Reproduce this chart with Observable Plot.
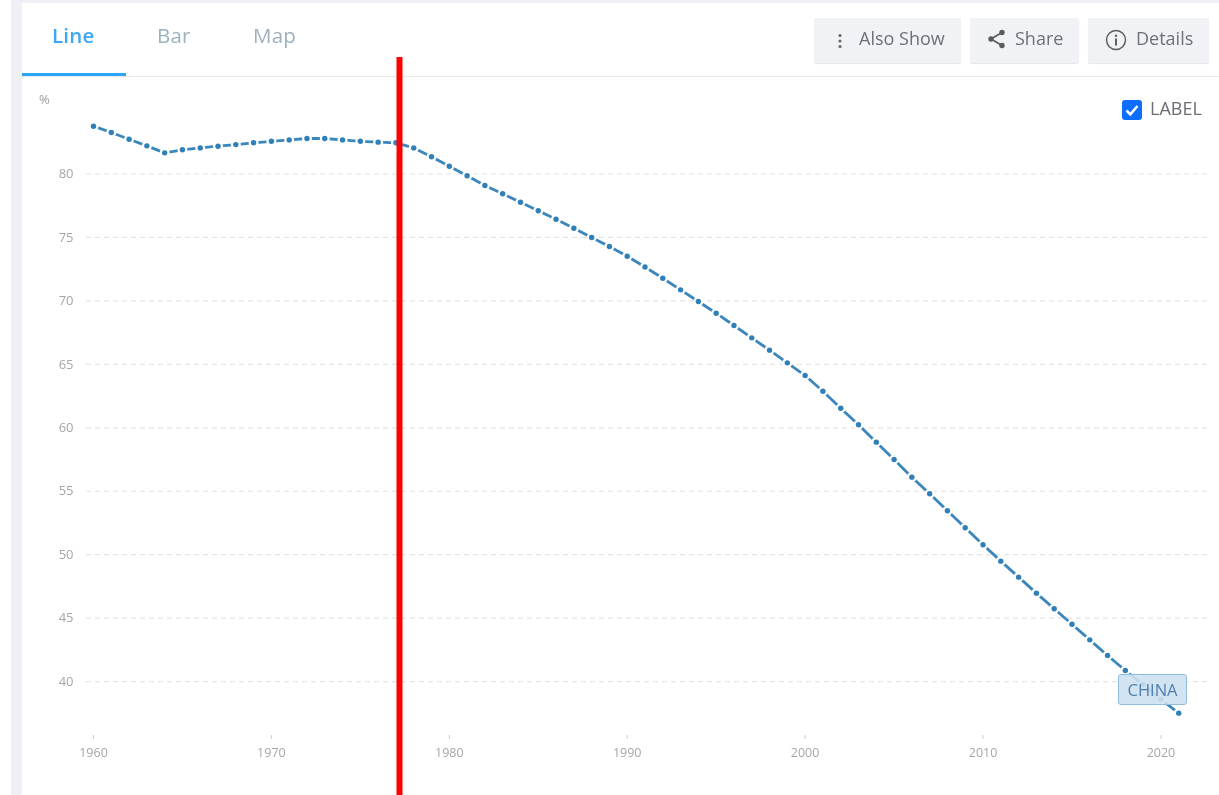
<!DOCTYPE html>
<html>
<head>
<meta charset="utf-8">
<script src="https://cdn.jsdelivr.net/npm/d3@7"></script>
<script src="https://cdn.jsdelivr.net/npm/@observablehq/plot@0.6"></script>
<style>
html,body{margin:0;padding:0;background:#fff;overflow:hidden;}
#page{position:relative;width:1219px;height:795px;overflow:hidden;font-family:"Open Sans",sans-serif;filter:blur(.4px);}
#page .abs{position:absolute;}
#chart{position:absolute;left:0;top:0;z-index:2;}
.tab{position:absolute;top:20px;font-size:20.5px;line-height:30px;color:#9db0bd;letter-spacing:.2px;}
.btn{position:absolute;top:18px;height:45px;background:#f0f2f6;border-radius:2px;box-shadow:0 1px 1px #e4e6ea;color:#6d7076;font-size:18px;line-height:41px;white-space:nowrap;}
.btn span{position:absolute;top:0;}
.btn svg{position:absolute;}
#label{position:absolute;z-index:3;left:1118px;top:674px;width:67px;height:29px;border:1px solid #8dbce0;border-radius:3px;background:rgba(205,225,240,.9);color:#4f7fae;font-size:16.5px;line-height:30px;text-align:center;}
</style>
</head>
<body>
<div id="page">
  <div class="abs" style="left:11px;top:0;width:1208px;height:3px;background:#eef0f5"></div>
  <div class="abs" style="left:11px;top:0;width:11px;height:795px;background:#eef0f5"></div>
  <div class="abs" style="left:22px;top:76px;width:1197px;height:1px;background:#e3e8ee"></div>
  <div class="abs" style="left:22px;top:73px;width:104px;height:3px;background:#2ba5f5"></div>
  <div class="tab" style="left:52px;color:#3ba7f6;font-weight:600">Line</div>
  <div class="tab" style="left:157px">Bar</div>
  <div class="tab" style="left:253px">Map</div>
  <div class="btn" style="left:814px;width:147px">
    <svg style="left:23px;top:14px" width="6" height="18" viewBox="0 0 6 18"><g fill="#6d6a68"><circle cx="3" cy="3.500" r="1.600"/><circle cx="3" cy="9" r="1.600"/><circle cx="3" cy="14.500" r="1.600"/></g></svg>
    <span style="left:45px">Also Show</span>
  </div>
  <div class="btn" style="left:970px;width:109px">
    <svg style="left:17px;top:11px" width="20" height="20" viewBox="0 0 20 20"><path d="M15 3.500 4 10l11 6.500" fill="none" stroke="#5b5b5b" stroke-width="1.700"/><g fill="#5b5b5b"><circle cx="15" cy="3.500" r="2.700"/><circle cx="4" cy="10" r="2.700"/><circle cx="15" cy="16.500" r="2.700"/></g></svg>
    <span style="left:45px">Share</span>
  </div>
  <div class="btn" style="left:1088px;width:121px">
    <svg style="left:17px;top:11px" width="22" height="22" viewBox="0 0 22 22"><circle cx="11" cy="11" r="9.500" fill="none" stroke="#5f5f5f" stroke-width="1.500"/><circle cx="11" cy="6.800" r="1.200" fill="#5f5f5f"/><rect x="10" y="9.500" width="2" height="7" fill="#5f5f5f"/></svg>
    <span style="left:48px">Details</span>
  </div>
  <svg class="abs" style="left:1122px;top:100px" width="20" height="20" viewBox="0 0 20 20"><rect width="20" height="20" rx="3" fill="#0d6efd"/><path d="M4.500 10.500 8.300 14.300 15.500 6" fill="none" stroke="#fff" stroke-width="2.600"/></svg>
  <div class="abs" style="left:1150px;top:95px;font-size:18px;line-height:26px;color:#6a6d74">LABEL</div>
  <div class="abs" style="left:39px;top:91px;font-size:13px;line-height:16px;color:#9c9c9c">%</div>
  <div id="label">CHINA</div>
</div>
<script>
const years = d3.range(1960, 2022);
const shares = [
  83.77, 83.27, 82.74, 82.22, 81.67, 81.91, 82.06, 82.19, 82.32, 82.46,
  82.58, 82.69, 82.80, 82.80, 82.69, 82.58, 82.51, 82.46, 82.06, 81.36,
  80.61, 79.86, 79.09, 78.44, 77.78, 77.10, 76.44, 75.73, 75.00, 74.29,
  73.52, 72.67, 71.79, 70.87, 69.95, 69.03, 68.06, 67.09, 66.12, 65.12,
  64.12, 62.88, 61.54, 60.24, 58.87, 57.50, 56.11, 54.80, 53.46, 52.12,
  50.78, 49.49, 48.23, 46.97, 45.74, 44.52, 43.29, 42.06, 40.87, 39.77,
  38.59, 37.51
];
const yTicks = [40, 45, 50, 55, 60, 65, 70, 75, 80];
const xTicks = [1960, 1970, 1980, 1990, 2000, 2010, 2020];
const markerYear = 1977.2;
const rows = years.map((year, i) => ({year, value: shares[i]}));
const lineColor = "#3a86bd";

const chart = Plot.plot({
  width: 1219,
  height: 795,
  marginLeft: 86,
  marginRight: 10,
  marginTop: 80,
  marginBottom: 60,
  style: {background: "transparent", fontFamily: "'Open Sans', sans-serif", fontSize: "12.5px"},
  x: {domain: [1959.607, 2022.73]},
  y: {domain: [35.75, 87.37]},
  marks: [
    Plot.gridY(yTicks, {stroke: "#e4e4e4", strokeOpacity: 1, strokeWidth: 1.2, strokeDasharray: "5 4"}),
    Plot.axisY(yTicks, {tickSize: 0, tickPadding: 13, stroke: "none", fill: "#a6a6a6", label: null, fontSize: 13}),
    Plot.axisX(xTicks, {tickSize: 4, tickPadding: 9, stroke: "#cfcfcf", fill: "#a6a6a6", label: null, tickFormat: d => String(d), fontSize: 12.5}),
    Plot.line(rows, {x: "year", y: "value", stroke: lineColor, strokeWidth: 2.8}),
    Plot.dot(rows, {x: "year", y: "value", r: 5, fill: "#fff", stroke: "none"}),
    Plot.dot(rows, {x: "year", y: "value", r: 2.7, fill: "#2f7fb8", stroke: "none"}),
    Plot.ruleX([markerYear], {y1: 89.18, y2: 31.02, stroke: "#ff0000", strokeWidth: 6})
  ]
});
chart.id = "chart";
document.getElementById("page").appendChild(chart);
</script>
</body>
</html>
